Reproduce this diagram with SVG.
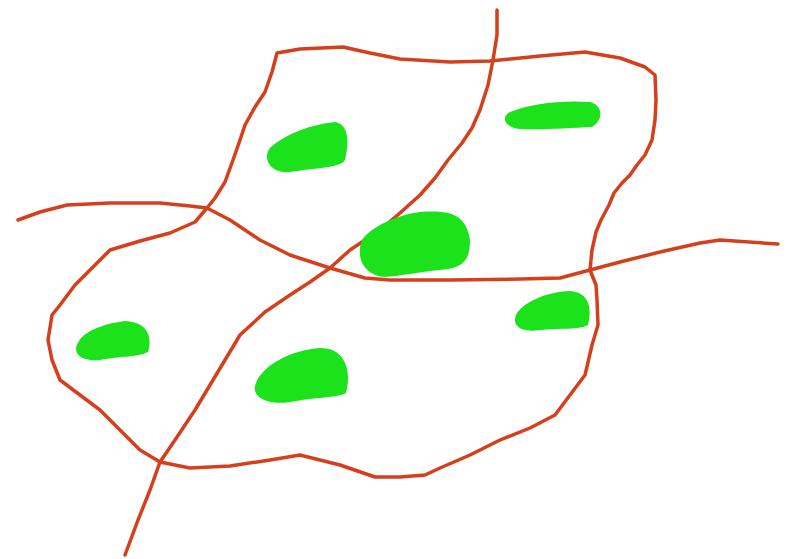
<svg xmlns="http://www.w3.org/2000/svg" width="788" height="559" viewBox="0 0 788 559">
<style>
.line{fill:none;stroke:#d63f1c;stroke-width:3.5;stroke-linejoin:round;stroke-linecap:round}
.blob{fill:#1be21b;stroke:none}
</style>
<rect width="788" height="559" fill="#ffffff"/>
<g id="lines">
<path class="line" d="M277,53 L300,49 L343,47 L370,53 L400,59 L450,62 L490,61 L540,56 L585,52 L620,58 L645,67 L655,75 L656,100 L655,120 L652,140 L645,155 L637,165 L630,175 L622,183 L614,193 L609,205 L601,220 L596,232 L592,250 L590,270 L596,285 L597,300 L598,325 L592,345 L585,375 L570,395 L555,415 L530,428 L500,440 L470,455 L440,468 L425,475 L400,477 L375,477 L340,465 L300,455 L270,460 L230,466 L190,468 L160,462 L140,450 L120,430 L100,410 L80,395 L60,380 L52,360 L48,340 L52,315 L60,305 L75,285 L90,270 L110,250 L140,241 L170,233 L195,222 L207,208 L215,198 L225,182 L233,160 L240,140 L245,125 L255,107 L265,92 L272,72 Z"/>
<path class="line" d="M18,220 L40,212 L67,205 L110,203 L160,203 L190,206 L207,208 L230,220 L260,240 L290,255 L330,268 L365,278 L390,280 L450,280 L520,279 L560,278 L590,270 L620,262 L660,252 L700,243 L720,240 L778,244"/>
<path class="line" d="M497,10 L497,35 L493,60 L488,85 L480,110 L472,128 L462,143 L448,160 L435,178 L420,195 L400,213 L380,230 L350,250 L330,268 L310,282 L290,295 L265,312 L240,335 L225,360 L210,385 L195,410 L175,440 L160,462 L150,490 L138,520 L125,555"/>
</g>
<g id="blobs">
<path class="blob" d="M270,148 C280,138 305,125 335,122 C348,124 350,140 345,160 C340,168 315,168 290,172 C270,174 262,158 270,148 Z"/>
<path class="blob" d="M510,112 C530,104 560,100 590,102 C605,106 602,122 592,127 C570,128 540,130 520,129 C505,128 500,117 510,112 Z"/>
<path class="blob" d="M362,240 C370,228 395,215 420,212 C450,210 466,214 470,240 C470,262 462,268 440,270 C420,272 400,276 385,277 C365,276 355,258 362,240 Z"/>
<path class="blob" d="M516,315 C522,303 545,292 570,291 C590,292 592,310 588,325 C580,330 560,328 540,330 C520,333 512,325 516,315 Z"/>
<path class="blob" d="M78,343 C82,333 100,324 125,321 C150,322 152,340 148,352 C140,357 120,356 100,360 C80,362 72,352 78,343 Z"/>
<path class="blob" d="M256,383 C262,366 290,350 320,348 C345,348 352,370 346,393 C338,398 315,397 290,402 C265,406 250,395 256,383 Z"/>
</g>
</svg>
